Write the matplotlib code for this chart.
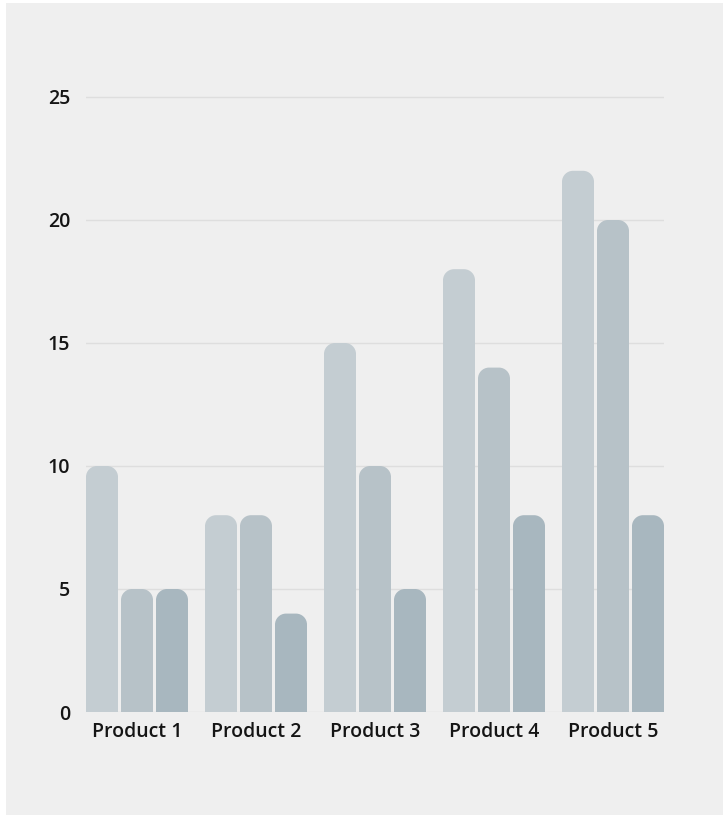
import matplotlib
matplotlib.use("Agg")
import matplotlib.pyplot as plt
import numpy as np
from matplotlib.path import Path
from matplotlib.patches import PathPatch, Rectangle

categories = ["Product 1", "Product 2", "Product 3", "Product 4", "Product 5"]
series_a = [10, 8, 15, 18, 22]
series_b = [5, 8, 10, 14, 20]
series_c = [5, 4, 5, 8, 8]
y_ticks = [0, 5, 10, 15, 20, 25]

colors = ["#c4cdd2", "#b7c2c8", "#a8b7bf"]
bg = "#efefef"

W, H = 723, 815
fig = plt.figure(figsize=(W / 100, H / 100), dpi=100, facecolor="white")
fig.patches.append(Rectangle((6 / W, -0.02), 1.05, 1.02 - 3 / H, transform=fig.transFigure,
                             facecolor=bg, edgecolor="none", zorder=-10))

ax_left, ax_right = 86, 664
y0_px, y25_px = 712, 97
unit = (y0_px - y25_px) / 25.0
ytop = 26.0
ax = fig.add_axes([ax_left / W, (H - y0_px) / H, (ax_right - ax_left) / W, ytop * unit / H])
ax.set_facecolor("none")

pitch = 35 / 119
width = 32 / 119
x = np.arange(len(categories))
half = 1.5 * pitch - (pitch - width) / 2
ax.set_xlim(-half, len(categories) - 1 + half)
ax.set_ylim(0, ytop)

for yt in y_ticks:
    ax.axhline(yt, color="#dedede", lw=1.0, zorder=0)

fig.canvas.draw()
px_x = ax.transData.transform((1, 0))[0] - ax.transData.transform((0, 0))[0]
px_y = ax.transData.transform((0, 1))[1] - ax.transData.transform((0, 0))[1]
r_px = 11
rx, ry = r_px / px_x, r_px / px_y
k = 0.5523

def rounded(x0, w, h):
    x1 = x0 + w
    verts = [(x0, 0), (x0, h - ry),
             (x0, h - ry + k * ry), (x0 + rx - k * rx, h), (x0 + rx, h),
             (x1 - rx, h),
             (x1 - rx + k * rx, h), (x1, h - ry + k * ry), (x1, h - ry),
             (x1, 0), (x0, 0)]
    codes = [Path.MOVETO, Path.LINETO,
             Path.CURVE4, Path.CURVE4, Path.CURVE4,
             Path.LINETO,
             Path.CURVE4, Path.CURVE4, Path.CURVE4,
             Path.LINETO, Path.CLOSEPOLY]
    return Path(verts, codes)

for i, (vals, c) in enumerate(zip([series_a, series_b, series_c], colors)):
    bars = ax.bar(x + (i - 1) * pitch, vals, width=width, color=c)
    for b in bars:
        b.set_visible(False)
        ax.add_patch(PathPatch(rounded(b.get_x(), b.get_width(), b.get_height()),
                               facecolor=c, edgecolor="none", zorder=2))

for s in ax.spines.values():
    s.set_visible(False)

font = dict(family=["Open Sans", "DejaVu Sans"], weight="semibold", size=14)
ax.set_yticks(y_ticks)
ax.set_yticklabels([str(t) for t in y_ticks], **font, color="#151515")
ax.set_xticks(x)
ax.set_xticklabels(categories, **font, color="#151515")
ax.tick_params(axis="y", length=0, pad=11.5)
ax.tick_params(axis="x", length=0, pad=7)

fig.savefig("out.png", dpi=100, facecolor=fig.get_facecolor())
